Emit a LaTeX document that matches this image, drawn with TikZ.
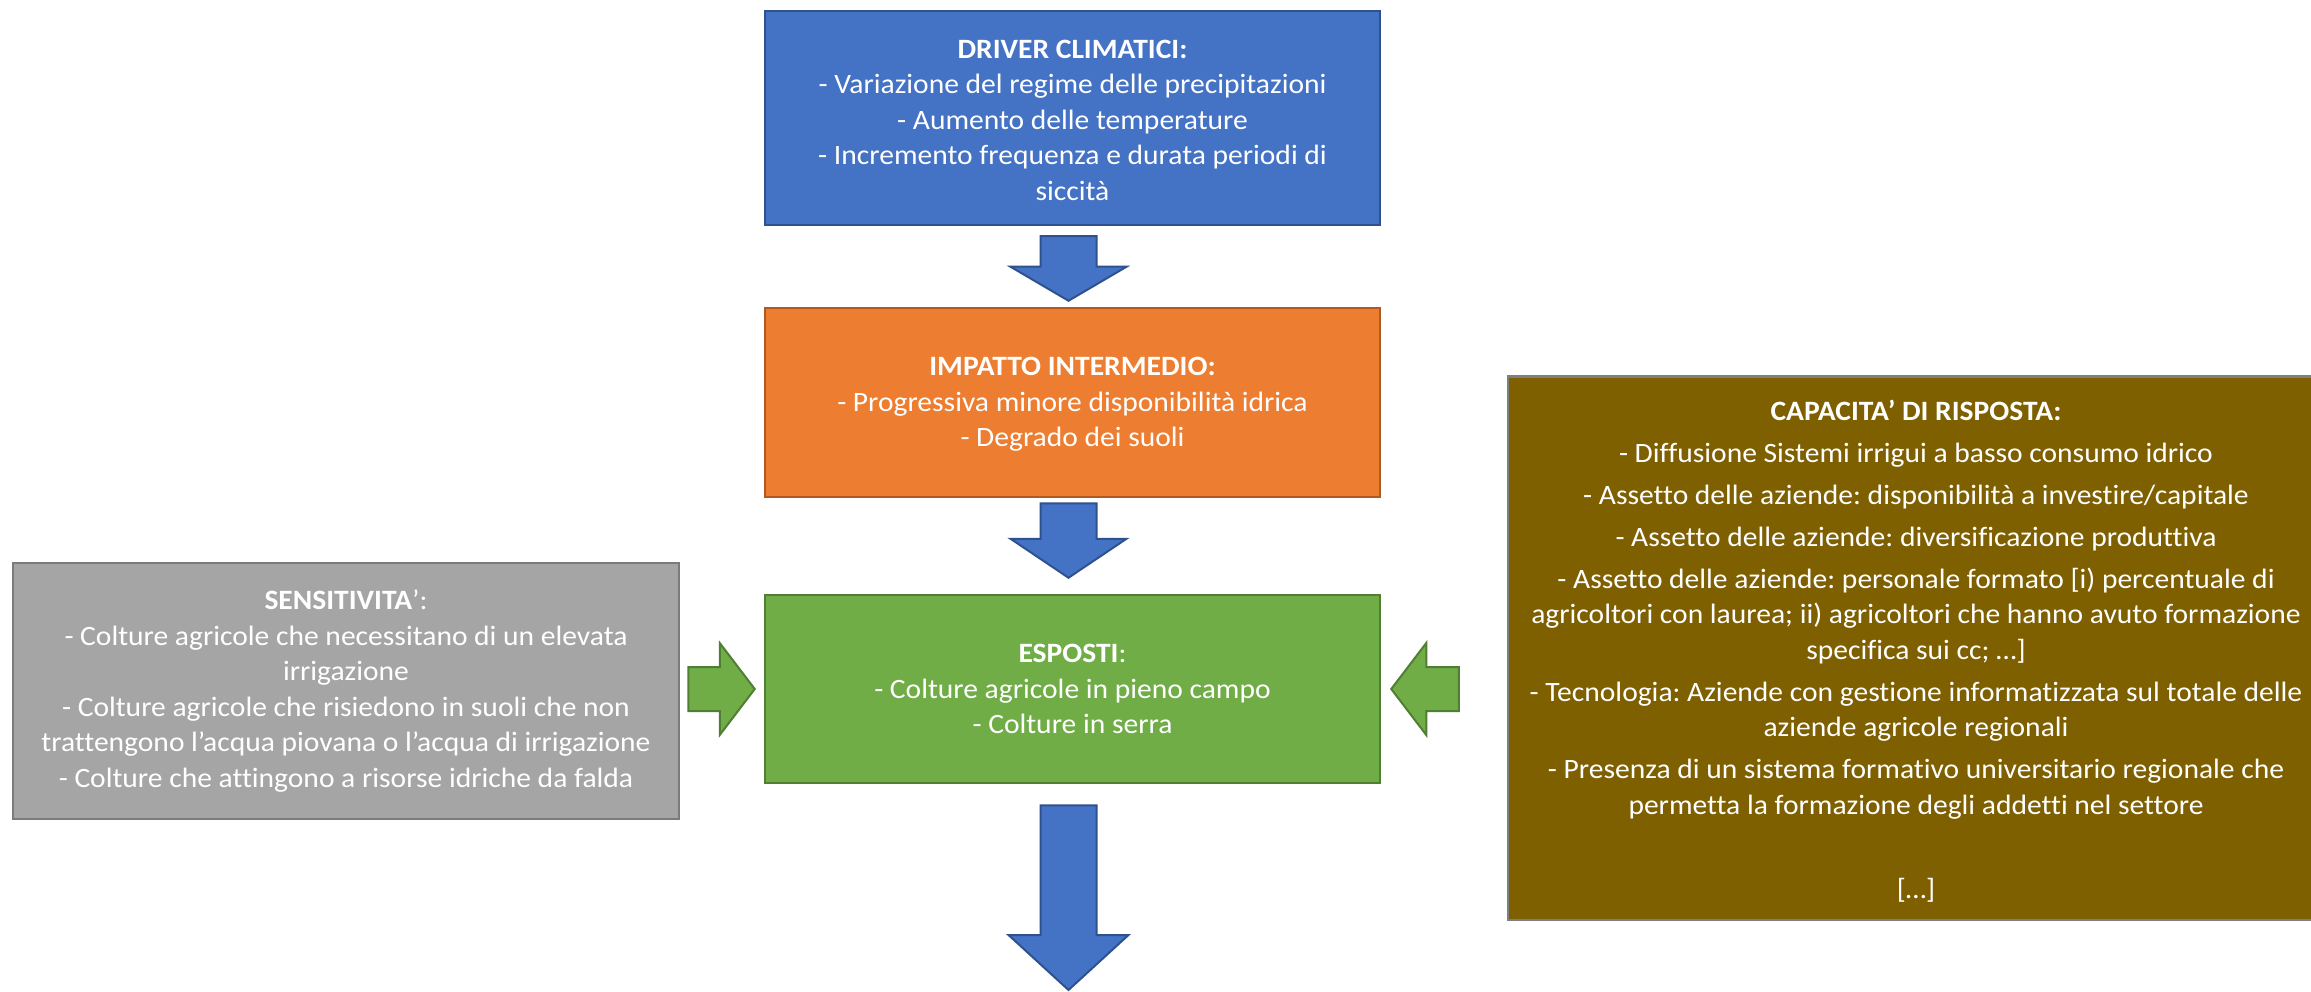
\documentclass[tikz,border=0pt]{standalone}
\usepackage{fontspec}
\setmainfont[Ligatures=NoCommon, FakeStretch=1.055]{Carlito}
\usetikzlibrary{calc}
\frenchspacing

\definecolor{blueFill}{HTML}{4472C4}
\definecolor{blueLine}{HTML}{2F528F}
\definecolor{orangeFill}{HTML}{ED7D31}
\definecolor{orangeLine}{HTML}{AE5A21}
\definecolor{greenFill}{HTML}{70AD47}
\definecolor{greenLine}{HTML}{507E32}
\definecolor{greyFill}{HTML}{A5A5A5}
\definecolor{greyLine}{HTML}{7B7B7B}
\definecolor{brownFill}{HTML}{7F6000}
\definecolor{brownLine}{HTML}{7F7F7F}

\begin{document}
\begin{tikzpicture}[x=1pt,y=-1pt,
  box/.style={rectangle, draw, line width=2.5pt, inner sep=0pt},
  boxtext/.style={inner sep=0pt, align=center, text=white,
    font=\fontsize{28pt}{35.5pt}\selectfont},
  bluebox/.style={box, fill=blueFill, draw=blueLine},
  orangebox/.style={box, fill=orangeFill, draw=orangeLine},
  greenbox/.style={box, fill=greenFill, draw=greenLine},
  greybox/.style={box, fill=greyFill, draw=greyLine},
  brownbox/.style={box, fill=brownFill, draw=brownLine},
  bluearrow/.style={fill=blueFill, draw=blueLine, line width=2pt, line join=miter},
  greenarrow/.style={fill=greenFill, draw=greenLine, line width=2pt, line join=miter}]

\useasboundingbox (0,0) rectangle (2311,992);
\fill[white] (0,0) rectangle (2311,992);
\clip (0,0) rectangle (2311,992);

% boxes
\node[bluebox, minimum width=615pt, minimum height=214pt] (driver) at (1072.5,118) {};
\node[boxtext] (driver-text) at ($(driver.center)+(0,2)$)
  {\textbf{DRIVER CLIMATICI:}\\
   - Variazione del regime delle precipitazioni\\
   - Aumento delle temperature\\
   - Incremento frequenza e durata periodi di\\
   siccità};

\node[orangebox, minimum width=615pt, minimum height=189pt] (impatto) at (1072.5,402.5) {};
\node[boxtext] (impatto-text) at ($(impatto.center)+(0,2)$)
  {\textbf{IMPATTO INTERMEDIO:}\\
   - Progressiva minore disponibilità idrica\\
   - Degrado dei suoli};

\node[greenbox, minimum width=615pt, minimum height=188pt] (esposti) at (1072.5,689) {};
\node[boxtext] (esposti-text) at (esposti.center)
  {\textbf{ESPOSTI}:\\
   - Colture agricole in pieno campo\\
   - Colture in serra};

\node[greybox, minimum width=666pt, minimum height=256pt] (sens) at (346,691) {};
\node[boxtext] (sens-text) at (sens.center)
  {\textbf{SENSITIVITA}’:\\
   - Colture agricole che necessitano di un elevata\\
   irrigazione\\
   - Colture agricole che risiedono in suoli che non\\
   trattengono l’acqua piovana o l’acqua di irrigazione\\
   - Colture che attingono a risorse idriche da falda};

\node[brownbox, minimum width=816pt, minimum height=543.5pt] (risposta) at (1916,648) {};
\node[boxtext] (risposta-text) at ($(risposta.center)+(0,3)$)
  {\textbf{CAPACITA’ DI RISPOSTA:}\\[6.5pt]
   - Diffusione Sistemi irrigui a basso consumo idrico\\[6.5pt]
   - Assetto delle aziende: disponibilità a investire/capitale\\[6.5pt]
   - Assetto delle aziende: diversificazione produttiva\\[6.5pt]
   - Assetto delle aziende: personale formato [i) percentuale di\\
   agricoltori con laurea; ii) agricoltori che hanno avuto formazione\\
   specifica sui cc; …]\\[6.5pt]
   - Tecnologia: Aziende con gestione informatizzata sul totale delle\\
   aziende agricole regionali\\[6.5pt]
   - Presenza di un sistema formativo universitario regionale che\\
   permetta la formazione degli addetti nel settore\\[6.5pt]
   \strut\\[6.5pt]
   […]};

% downward block arrows
\coordinate (a1) at ($(driver.south)+(-4,10)$);
\coordinate (b1) at ($(impatto.north)+(-4,-6)$);
\draw[bluearrow] ($(a1)+(-28,0)$) -- ($(a1)+(28,0)$) -- ($(b1)+(28,-34)$)
  -- ($(b1)+(58,-34)$) -- (b1) -- ($(b1)+(-58,-34)$) -- ($(b1)+(-28,-34)$) -- cycle;

\coordinate (a2) at ($(impatto.south)+(-4,5)$);
\coordinate (b2) at ($(esposti.north)+(-4,-16)$);
\draw[bluearrow] ($(a2)+(-28,0)$) -- ($(a2)+(28,0)$) -- ($(b2)+(28,-39)$)
  -- ($(b2)+(58,-39)$) -- (b2) -- ($(b2)+(-58,-39)$) -- ($(b2)+(-28,-39)$) -- cycle;

\coordinate (a3) at ($(esposti.south)+(-4,21)$);
\coordinate (b3) at ($(a3 |- 0,990)$);
\draw[bluearrow] ($(a3)+(-28,0)$) -- ($(a3)+(28,0)$) -- ($(b3)+(28,-55)$)
  -- ($(b3)+(60,-55)$) -- (b3) -- ($(b3)+(-60,-55)$) -- ($(b3)+(-28,-55)$) -- cycle;

% side block arrows into the exposure box
\coordinate (lb) at ($(esposti.west)+(-9,0)$);
\coordinate (la) at ($(sens.east)+(8,0)$);
\draw[greenarrow] ($(la |- lb)+(0,-22)$) -- ($(lb)+(-35,-22)$) -- ($(lb)+(-35,-46)$)
  -- (lb) -- ($(lb)+(-35,46)$) -- ($(lb)+(-35,22)$) -- ($(la |- lb)+(0,22)$) -- cycle;

\coordinate (rb) at ($(esposti.east)+(10,0)$);
\coordinate (ra) at ($(risposta.west)+(-48,0)$);
\draw[greenarrow] ($(ra |- rb)+(0,-22)$) -- ($(rb)+(35,-22)$) -- ($(rb)+(35,-46)$)
  -- (rb) -- ($(rb)+(35,46)$) -- ($(rb)+(35,22)$) -- ($(ra |- rb)+(0,22)$) -- cycle;
\end{tikzpicture}
\end{document}
